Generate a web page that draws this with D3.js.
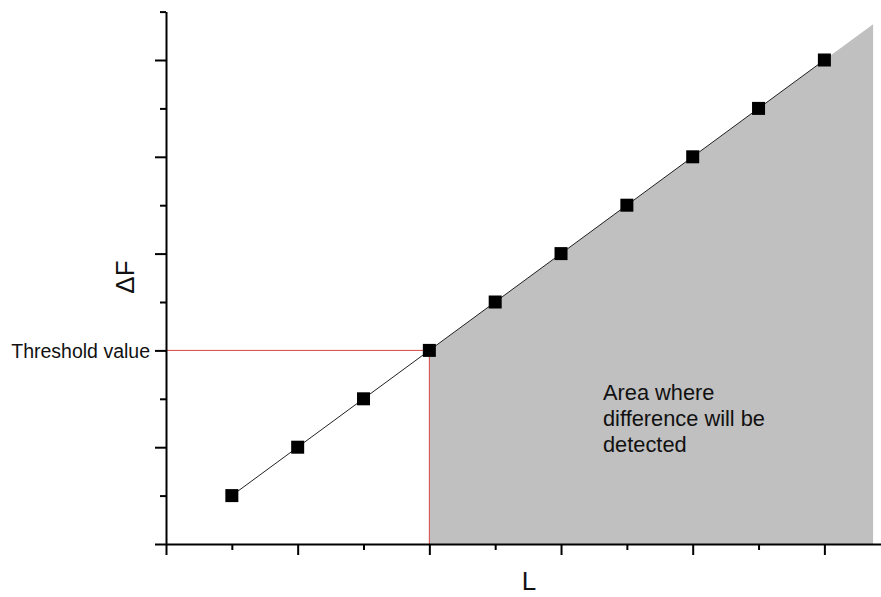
<!DOCTYPE html>
<html>
<head>
<meta charset="utf-8">
<script src="https://cdn.jsdelivr.net/npm/d3@7/dist/d3.min.js"></script>
<style>
  html, body { margin: 0; padding: 0; background: #ffffff; }
  svg { display: block; font-family: "Liberation Sans", Arial, sans-serif; }
</style>
</head>
<body>
<script>
// Measured points: load L against the change ΔF
const lValues = [0.5, 1, 1.5, 2, 2.5, 3, 3.5, 4, 4.5, 5];
const dFValues = [0.5, 1, 1.5, 2, 2.5, 3, 3.5, 4, 4.5, 5];

// Threshold where a difference becomes detectable
const thresholdL = 2;
const thresholdDF = 2;
const areaEndL = 5.37;

// Tick positions (no tick labels are shown)
const xMajorTicks = [0, 1, 2, 3, 4, 5];
const xMinorTicks = [0.5, 1.5, 2.5, 3.5, 4.5];
const yMajorTicks = [0, 1, 2, 3, 4, 5];
const yMinorTicks = [0.5, 1.5, 2.5, 3.5, 4.5, 5.5];

const xTitle = "L";
const yTitle = "ΔF";
const thresholdLabel = "Threshold value";
const areaLabel = ["Area where", "difference will be", "detected"];

const W = 881, H = 597;
const svg = d3.select("body").append("svg").attr("width", W).attr("height", H);

const x = d3.scaleLinear().domain([0, 5.43]).range([166, 881]);
const y = d3.scaleLinear().domain([0, 5.5]).range([544, 11.6]);

const pts = lValues.map((l, i) => ({ l, f: dFValues[i] }));

// Shaded region to the right of the threshold, under the line
const slope = (dFValues[dFValues.length - 1] - dFValues[0]) / (lValues[lValues.length - 1] - lValues[0]);
const edgeDF = dFValues[dFValues.length - 1] + slope * (areaEndL - lValues[lValues.length - 1]);
const areaPoly = [
  [thresholdL, 0],
  [thresholdL, thresholdDF],
  ...pts.filter(p => p.l > thresholdL).map(p => [p.l, p.f]),
  [areaEndL, edgeDF],
  [areaEndL, 0]
];
svg.append("path")
  .attr("d", d3.line().x(d => x(d[0])).y(d => y(d[1]))(areaPoly) + "Z")
  .attr("fill", "#c0c0c0");

// Threshold guide lines
svg.append("line")
  .attr("x1", x(0)).attr("x2", x(thresholdL))
  .attr("y1", y(thresholdDF)).attr("y2", y(thresholdDF))
  .attr("stroke", "#d64545").attr("stroke-width", 1);
svg.append("line")
  .attr("x1", x(thresholdL)).attr("x2", x(thresholdL))
  .attr("y1", y(thresholdDF)).attr("y2", y(0))
  .attr("stroke", "#d64545").attr("stroke-width", 1);

// Data line
svg.append("path")
  .datum(pts)
  .attr("d", d3.line().x(d => x(d.l)).y(d => y(d.f)))
  .attr("fill", "none").attr("stroke", "#222").attr("stroke-width", 1);

// Square markers
const ms = 13;
svg.selectAll("rect.pt").data(pts).join("rect")
  .attr("class", "pt")
  .attr("x", d => x(d.l) - ms / 2).attr("y", d => y(d.f) - ms / 2)
  .attr("width", ms).attr("height", ms)
  .attr("fill", "#000");

// Axes
function styleAxis(g) {
  g.selectAll("path.domain").attr("stroke", "#000").attr("stroke-width", 2);
  g.selectAll(".tick line").attr("stroke", "#000").attr("stroke-width", 2);
  g.selectAll(".tick text").remove();
}

const gx = svg.append("g").attr("transform", `translate(0,${y(0)})`);
gx.append("g").call(d3.axisBottom(x).tickValues(xMajorTicks).tickSize(11).tickSizeOuter(0).tickFormat(""))
  .call(styleAxis);
gx.append("g").call(d3.axisBottom(x).tickValues(xMinorTicks).tickSize(6).tickSizeOuter(0).tickFormat(""))
  .call(styleAxis).call(g => g.select("path.domain").remove());

const gy = svg.append("g").attr("transform", `translate(${x(0)},0)`);
gy.append("g").call(d3.axisLeft(y).tickValues(yMajorTicks).tickSize(11).tickSizeOuter(0).tickFormat(""))
  .call(styleAxis);
gy.append("g").call(d3.axisLeft(y).tickValues(yMinorTicks).tickSize(6).tickSizeOuter(0).tickFormat(""))
  .call(styleAxis).call(g => g.select("path.domain").remove());

// Titles
svg.append("text")
  .attr("x", 529).attr("y", 590)
  .attr("text-anchor", "middle")
  .attr("font-size", 26).attr("fill", "#111")
  .text(xTitle);

svg.append("text")
  .attr("transform", `translate(134,277) rotate(-90)`)
  .attr("text-anchor", "middle")
  .attr("font-size", 26).attr("fill", "#111")
  .text(yTitle);

svg.append("text")
  .attr("x", 150).attr("y", 358)
  .attr("text-anchor", "end")
  .attr("font-size", 19.5).attr("fill", "#111")
  .text(thresholdLabel);

svg.append("g").selectAll("text").data(areaLabel).join("text")
  .attr("x", 603).attr("y", (d, i) => 400 + i * 26)
  .attr("font-size", 21.8).attr("fill", "#111")
  .text(d => d);
</script>
</body>
</html>
